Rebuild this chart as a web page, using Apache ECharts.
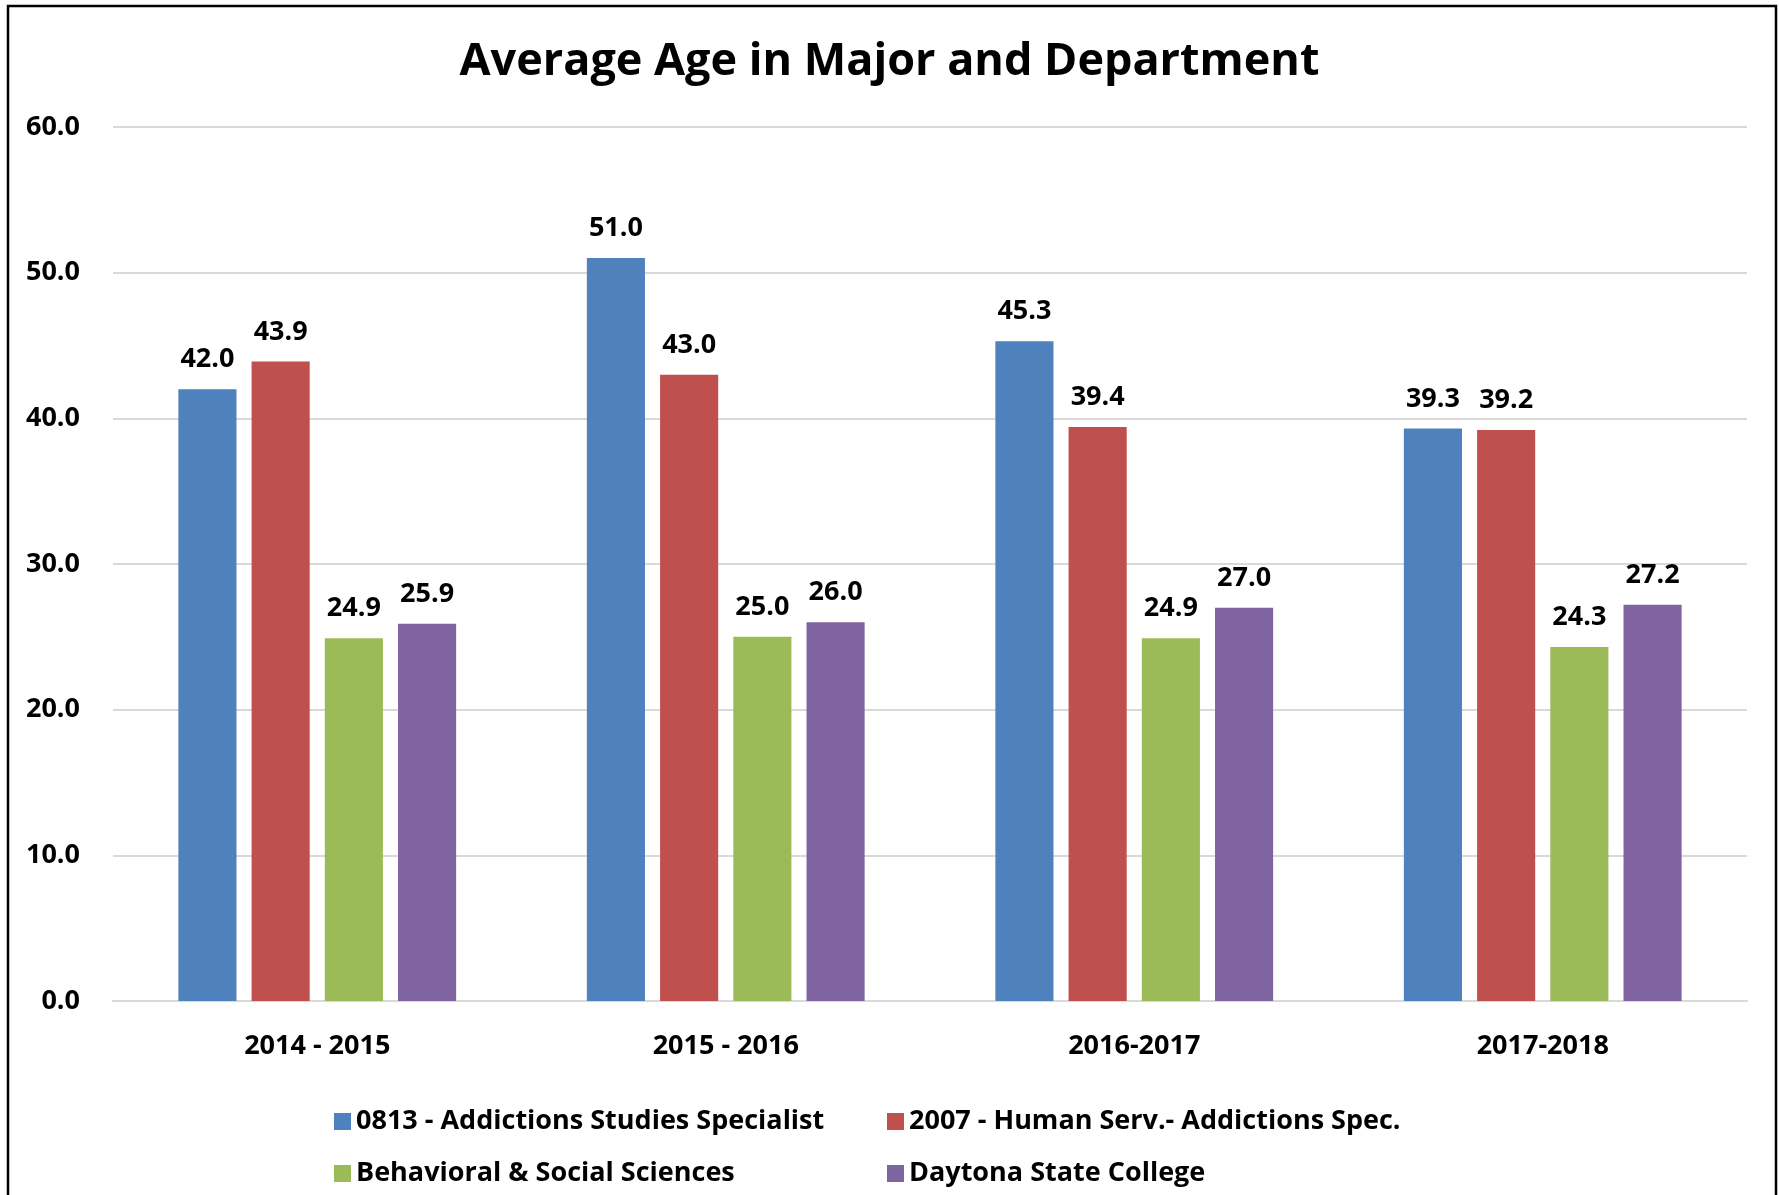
<!DOCTYPE html>
<html>
<head>
<meta charset="utf-8">
<title>Average Age in Major and Department</title>
<script src="https://cdn.jsdelivr.net/npm/echarts@6/dist/echarts.min.js"></script>
<style>
  html, body { margin: 0; padding: 0; background: #fff; }
  #chart { width: 1779px; height: 1195px; }
</style>
</head>
<body>
<div id="chart"></div>
<script>
// data
var years = ['2014 - 2015', '2015 - 2016', '2016-2017', '2017-2018'];
var seriesNames = [
  '0813 - Addictions Studies Specialist',
  '2007 - Human Serv.- Addictions Spec.',
  'Behavioral & Social Sciences',
  'Daytona State College'
];
var addictionsSpecialist = [42.0, 51.0, 45.3, 39.3];
var humanServ = [43.9, 43.0, 39.4, 39.2];
var behavioralSocial = [24.9, 25.0, 24.9, 24.3];
var daytonaState = [25.9, 26.0, 27.0, 27.2];
var colors = ['#4F81BD', '#C0504D', '#9BBB59', '#8064A2'];

var font = '"Open Sans", Lato, sans-serif';

var chart = echarts.init(document.getElementById('chart'));

function barSeries(name, data, color) {
  return {
    name: name,
    type: 'bar',
    data: data,
    barGap: '26%',
    barCategoryGap: '32%',
    itemStyle: { color: color },
    label: {
      show: true,
      position: 'top',
      distance: 16,
      color: '#000',
      fontFamily: font,
      fontWeight: 'bold',
      fontSize: 27,
      formatter: function (p) { return p.value.toFixed(1); }
    }
  };
}

// one legend per item so the two columns line up like the original
function legendItem(name, left, top) {
  return {
    left: left,
    top: top,
    itemWidth: 17,
    itemHeight: 17,
    itemGap: 0,
    icon: 'rect',
    textStyle: {
      color: '#000',
      fontFamily: font,
      fontWeight: 'bold',
      fontSize: 27
    },
    data: [name]
  };
}

var option = {
  backgroundColor: '#fff',
  animation: false,
  title: {
    text: 'Average Age in Major and Department',
    left: 'center',
    top: 35,
    textStyle: {
      color: '#000',
      fontFamily: font,
      fontWeight: 'bold',
      fontSize: 45
    }
  },
  legend: [
    legendItem(seriesNames[0], 329, 1103),
    legendItem(seriesNames[1], 882, 1103),
    legendItem(seriesNames[2], 329, 1155),
    legendItem(seriesNames[3], 882, 1155)
  ],
  grid: {
    left: 113,
    right: 32,
    top: 127,
    bottom: 194,
    containLabel: false
  },
  xAxis: {
    type: 'category',
    data: years,
    axisLine: { lineStyle: { color: '#d9d9d9', width: 2 } },
    axisTick: { show: false },
    axisLabel: {
      margin: 32,
      color: '#000',
      fontFamily: font,
      fontWeight: 'bold',
      fontSize: 27
    }
  },
  yAxis: {
    type: 'value',
    min: 0,
    max: 60,
    interval: 10,
    axisLine: { show: false },
    axisTick: { show: false },
    splitLine: { lineStyle: { color: '#d9d9d9', width: 2 } },
    axisLabel: {
      margin: 33,
      color: '#000',
      fontFamily: font,
      fontWeight: 'bold',
      fontSize: 27,
      formatter: function (v) { return v.toFixed(1); }
    }
  },
  graphic: [
    {
      type: 'rect',
      silent: true,
      shape: { x: 8, y: 6, width: 1768, height: 1210 },
      style: { fill: null, stroke: '#000', lineWidth: 2.5 }
    }
  ],
  series: [
    barSeries(seriesNames[0], addictionsSpecialist, colors[0]),
    barSeries(seriesNames[1], humanServ, colors[1]),
    barSeries(seriesNames[2], behavioralSocial, colors[2]),
    barSeries(seriesNames[3], daytonaState, colors[3])
  ]
};

chart.setOption(option);
</script>
</body>
</html>
